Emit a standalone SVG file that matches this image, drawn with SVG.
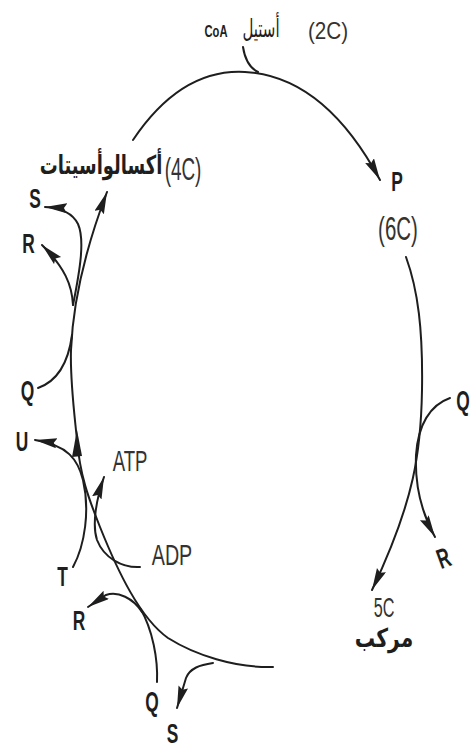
<svg xmlns="http://www.w3.org/2000/svg" width="473" height="751" viewBox="0 0 473 751">
<style>
.ln{fill:none;stroke:#1e1e1e;stroke-width:2;stroke-linecap:round}
.arr{marker-end:url(#ah)}
.b{font-family:"Liberation Sans",Arial,sans-serif;font-weight:bold;font-size:28px;fill:#1e1e1e;text-anchor:middle}
.r{font-family:"Liberation Sans",Arial,sans-serif;font-size:29px;fill:#333;text-anchor:middle}
.ar{font-family:"DejaVu Sans",sans-serif;font-weight:bold;fill:#1e1e1e;text-anchor:middle}
</style>
<defs>
<marker id="ah" markerUnits="userSpaceOnUse" markerWidth="24" markerHeight="12" viewBox="0 0 24 12" refX="22" refY="5" orient="auto">
<path d="M0,0 L22,5 L0,10 L3,5 Z" fill="#1e1e1e"/>
</marker>
</defs>
<rect width="473" height="751" fill="#fff"/>
<g id="connectors">
<path class="ln arr" d="M133,140 C170,85 210,70 245,72 C300,75 345,115 380,180"/>
<path class="ln" d="M243,47 C245,60 250,68 258,72"/>
<path class="ln arr" d="M406,257 C418,290 423,330 422,390 C421,450 415,500 372,590"/>
<path class="ln arr" d="M450,398 C430,405 418,425 416,455 C415,480 420,510 435,537"/>
<path class="ln arr" d="M273,667 C235,668 195,655 168,638 C140,618 118,572 100,527 C88,497 80,475 77,440 C74,410 70,380 71,350 C73,300 85,250 107,192"/>
<polygon points="77,430 72,457 82,456" fill="#1e1e1e"/>
<path class="ln arr" d="M73,305 C80,270 85,240 78,224 C73,214 62,208 45,207"/>
<path class="ln arr" d="M73,305 C72,285 65,268 42,245"/>
<path class="ln" d="M38,388 C55,382 68,365 72,335"/>
<path class="ln arr" d="M73,567 C85,545 90,510 83,480 C78,460 68,445 35,440"/>
<path class="ln arr" d="M140,567 C122,568 104,558 97,540 C92,525 96,500 104,477"/>
<path class="ln arr" d="M142,612 C133,598 118,591 106,595 L88,607"/>
<path class="ln" d="M157,682 C158,660 153,630 140,608"/>
<path class="ln arr" d="M213,663 C200,665 190,668 186,678 L177,708"/>
</g>
<g id="acetylcoa">
<text class="b" style="font-size:16px" transform="translate(216,37) scale(0.7,1)">CoA</text>
<text class="ar" style="font-size:25px;font-weight:normal" transform="translate(261,37) scale(0.6,1)">أستيل</text>
<text class="r" style="font-size:23px" transform="translate(328,39) scale(0.9,1)">(2C)</text>
</g>
<g id="oxaloacetate">
<text class="ar" style="font-size:26px" transform="translate(101,174) scale(0.69,1)">أكسالوأسيتات</text>
<text class="r" style="font-size:31px" transform="translate(183,180) scale(0.61,1)">(4C)</text>
</g>
<g id="citrate">
<text class="b" transform="translate(397,191) scale(0.62,1)">P</text>
<text class="r" style="font-size:33px" transform="translate(398,240) scale(0.62,1)">(6C)</text>
</g>
<g id="compound5c">
<text class="r" style="font-size:27px" transform="translate(384,617) scale(0.6,1)">5C</text>
<text class="ar" style="font-size:26px" transform="translate(384,647) scale(0.78,1)">مركب</text>
</g>
<g id="labels">
<text class="b" transform="translate(35,208) scale(0.62,1)">S</text>
<text class="b" transform="translate(28.5,253) scale(0.62,1)">R</text>
<text class="b" transform="translate(27.5,400) scale(0.62,1)">Q</text>
<text class="b" transform="translate(22,451) scale(0.62,1)">U</text>
<text class="b" transform="translate(62.5,586) scale(0.62,1)">T</text>
<text class="b" transform="translate(79,630) scale(0.62,1)">R</text>
<text class="b" transform="translate(152,711) scale(0.62,1)">Q</text>
<text class="b" transform="translate(172.5,743) scale(0.62,1)">S</text>
<text class="b" transform="translate(463,410) scale(0.62,1)">Q</text>
<text class="b" transform="translate(447,567) rotate(-20) scale(0.62,1)">R</text>
<text class="r" transform="translate(130,471) scale(0.64,1)">ATP</text>
<text class="r" transform="translate(172,565) scale(0.68,1)">ADP</text>
</g>
</svg>
